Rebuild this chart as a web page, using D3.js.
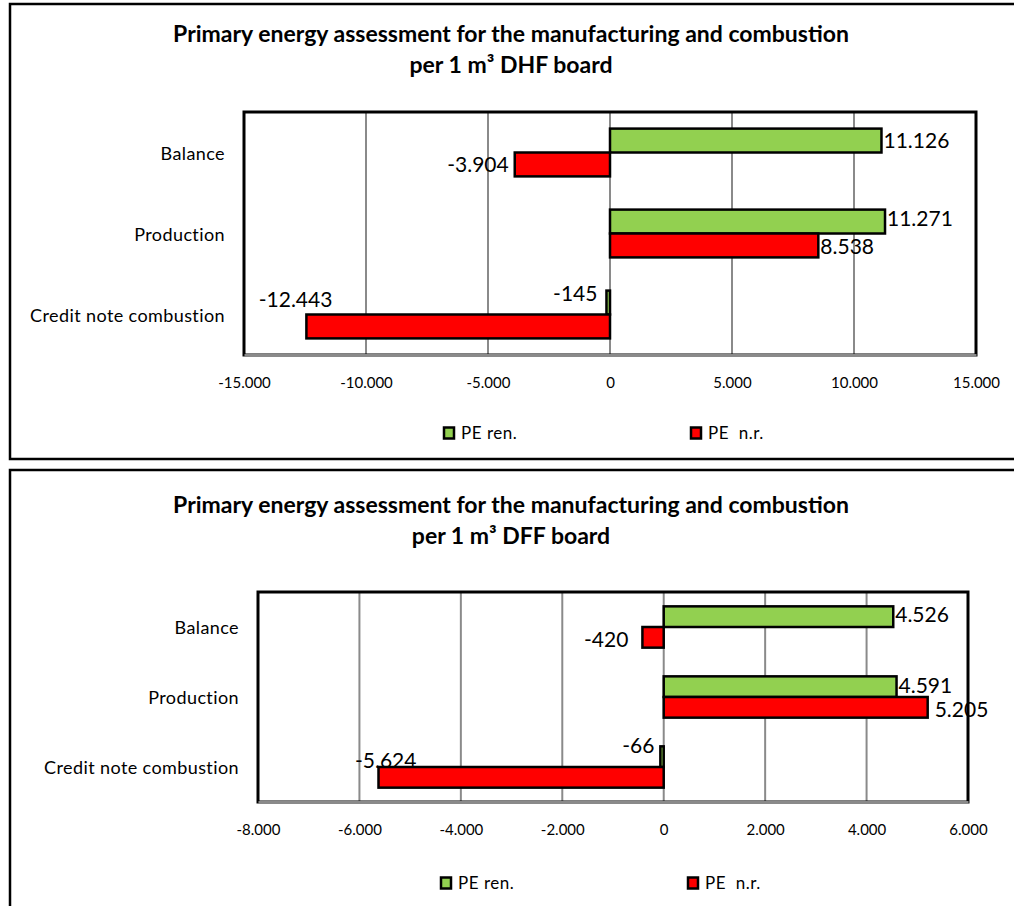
<!DOCTYPE html>
<html><head><meta charset="utf-8">
<script src="https://cdn.jsdelivr.net/npm/d3@7"></script>
<style>body{margin:0;background:#fff}svg{display:block}</style>
</head><body>
<svg id="c" width="1014" height="906"></svg>
<script>
// ---------- data ----------
const categories = ["Balance", "Production", "Credit note combustion"];
const seriesNames = ["PE ren.", "PE n.r."];
const dhfRen = [11126, 11271, -145];
const dhfNr  = [-3904, 8538, -12443];
const dffRen = [4526, 4591, -66];
const dffNr  = [-420, 5205, -5624];
const dhfTicks = [-15000, -10000, -5000, 0, 5000, 10000, 15000];
const dffTicks = [-8000, -6000, -4000, -2000, 0, 2000, 4000, 6000];
const titleLine1 = "Primary energy assessment for the manufacturing and combustion";
const dhfTitle2 = "per 1 m³ DHF board";
const dffTitle2 = "per 1 m³ DFF board";

// manually moved data labels (as in the original) [dx, dy]
const dhfRenNudge = [[0,0],[0,-3],[-3,-9]];
const dhfNrNudge  = [[0,0],[0,1],[32,-27]];
const dffRenNudge = [[0,-2],[0,-1],[0,-11]];
const dffNrNudge  = [[-8,2],[5,2],[44,-17]];

const colors = {"PE ren.": "#92D050", "PE n.r.": "#FF0000"};
const loc = d3.formatLocale({decimal: ",", thousands: ".", grouping: [3], currency: ["", "€"], minus: "-"});
const fmt = loc.format(",d");

const svg = d3.select("#c");
const FONT = "Lato, 'Open Sans', sans-serif";

function drawChart(cfg) {
  const g = svg.append("g");
  // outer frame (right edge lies beyond the picture, as in the original)
  g.append("rect").attr("x", cfg.box[0]).attr("y", cfg.box[1])
    .attr("width", cfg.box[2]).attr("height", cfg.box[3])
    .attr("fill", "#fff").attr("stroke", "#000").attr("stroke-width", 2.5);

  // title
  [titleLine1, cfg.title2].forEach((t, i) => {
    g.append("text").attr("x", cfg.titleX).attr("y", i === 0 ? cfg.titleY1 : cfg.titleY2)
      .attr("text-anchor", "middle").attr("font-family", FONT).attr("font-weight", "bold")
      .attr("font-size", 23).attr("fill", "#000").text(t);
  });

  const x = d3.scaleLinear().domain(d3.extent(cfg.ticks)).range([cfg.plot.left, cfg.plot.right]);
  const y0 = d3.scaleBand().domain(categories).range([cfg.plot.top, cfg.plot.bottom])
    .paddingInner(0.41).paddingOuter(0.205);
  const y1 = d3.scaleBand().domain(seriesNames).range([0, y0.bandwidth()]);

  // gridlines
  g.append("g").selectAll("line").data(cfg.ticks.slice(1, -1)).join("line")
    .attr("x1", d => x(d)).attr("x2", d => x(d))
    .attr("y1", cfg.plot.top).attr("y2", cfg.plot.bottom)
    .attr("stroke", "#8a8a8a").attr("stroke-width", 2);

  // plot border
  g.append("rect").attr("x", cfg.plot.left).attr("y", cfg.plot.top)
    .attr("width", cfg.plot.right - cfg.plot.left).attr("height", cfg.plot.bottom - cfg.plot.top)
    .attr("fill", "none").attr("stroke", "#000").attr("stroke-width", 3);

  // x axis (bottom, grey)
  const axis = d3.axisBottom(x).tickValues(cfg.ticks).tickFormat(fmt).tickSize(0).tickPadding(22);
  const ax = g.append("g").attr("transform", `translate(0,${cfg.plot.bottom})`).call(axis);
  ax.select(".domain").attr("stroke", "#8a8a8a").attr("stroke-width", 3);
  ax.selectAll("text").attr("font-family", FONT).attr("font-size", 15).attr("fill", "#000");

  // category labels
  g.append("g").selectAll("text").data(categories).join("text")
    .attr("x", cfg.plot.left - 19).attr("y", d => y0(d) + y0.bandwidth() / 2 + 1)
    .attr("dy", "0.35em").attr("text-anchor", "end")
    .attr("font-family", FONT).attr("font-size", 18).attr("letter-spacing", 0.4)
    .attr("fill", "#000").text(d => d);

  // bars
  const series = [
    {name: "PE ren.", values: cfg.ren, nudge: cfg.renNudge},
    {name: "PE n.r.", values: cfg.nr, nudge: cfg.nrNudge}
  ];
  series.forEach(s => {
    const rows = categories.map((c, i) => ({c, v: s.values[i], n: s.nudge[i]}));
    g.append("g").selectAll("rect").data(rows).join("rect")
      .attr("x", d => x(Math.min(0, d.v)))
      .attr("width", d => Math.abs(x(d.v) - x(0)))
      .attr("y", d => y0(d.c) + y1(s.name))
      .attr("height", y1.bandwidth())
      .attr("fill", colors[s.name]).attr("stroke", "#000").attr("stroke-width", 2.5);
    g.append("g").selectAll("text").data(rows).join("text")
      .attr("x", d => (d.v >= 0 ? x(d.v) + 2 : x(d.v) - 6) + d.n[0])
      .attr("y", d => y0(d.c) + y1(s.name) + y1.bandwidth() / 2 + d.n[1])
      .attr("dy", "0.36em")
      .attr("text-anchor", d => d.v >= 0 ? "start" : "end")
      .attr("font-family", FONT).attr("font-size", 21).attr("fill", "#000")
      .text(d => fmt(d.v));
  });

  // legend
  const lg = g.append("g");
  series.forEach((s, i) => {
    const lx = cfg.legendX[i];
    lg.append("rect").attr("x", lx).attr("y", cfg.legendY - 5.5).attr("width", 10).attr("height", 11)
      .attr("fill", colors[s.name]).attr("stroke", "#000").attr("stroke-width", 2.5);
    lg.append("text").attr("x", lx + 17).attr("y", cfg.legendY).attr("dy", "0.35em")
      .attr("font-family", FONT).attr("font-size", 17).attr("letter-spacing", 0.5)
      .attr("fill", "#000").attr("xml:space", "preserve")
      .text(s.name === "PE ren." ? "PE ren." : "PE  n.r.");
  });
}

drawChart({
  box: [10, 4, 1012, 455],
  titleX: 511, titleY1: 42, titleY2: 73,
  title2: dhfTitle2,
  plot: {left: 244, right: 976, top: 112, bottom: 355},
  ticks: dhfTicks,
  ren: dhfRen, nr: dhfNr, renNudge: dhfRenNudge, nrNudge: dhfNrNudge,
  legendX: [444, 691], legendY: 433
});

drawChart({
  box: [10, 470, 1012, 445],
  titleX: 511, titleY1: 513, titleY2: 544,
  title2: dffTitle2,
  plot: {left: 258, right: 968, top: 592, bottom: 802},
  ticks: dffTicks,
  ren: dffRen, nr: dffNr, renNudge: dffRenNudge, nrNudge: dffNrNudge,
  legendX: [441, 688], legendY: 883
});
</script>
</body></html>
